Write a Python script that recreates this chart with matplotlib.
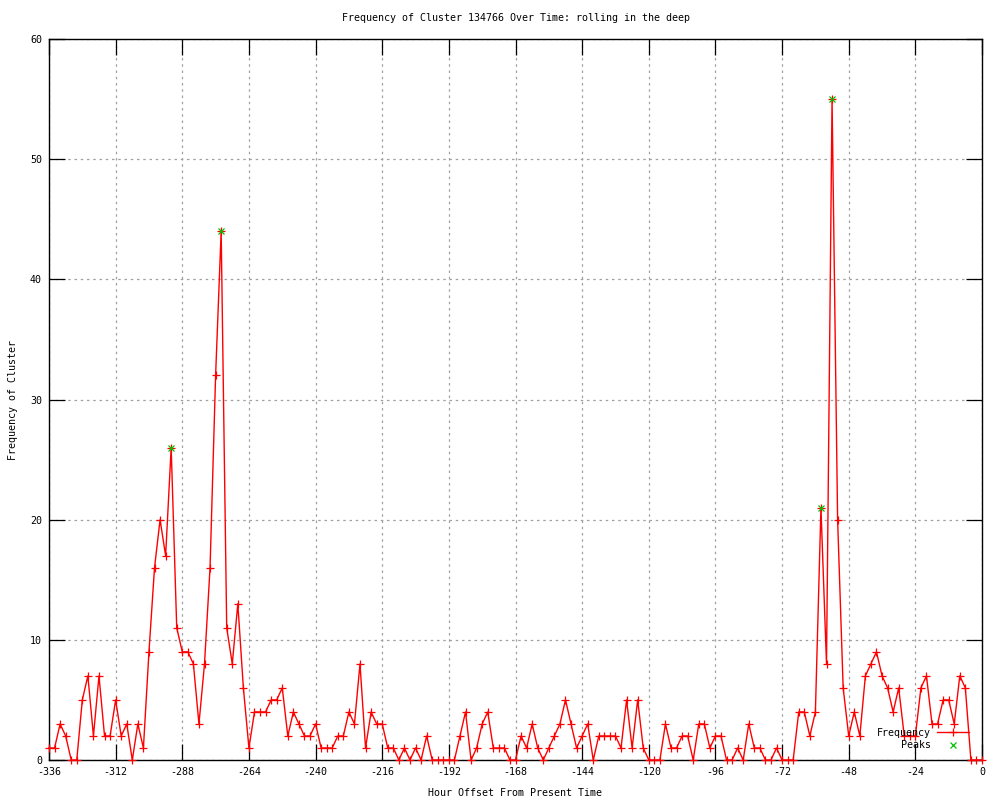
import numpy as np
import matplotlib
matplotlib.use("Agg")
import matplotlib.pyplot as plt

# counts every 2 hours, from -336 up to 0
hours = np.arange(-336, 1, 2)
freq = [1, 1, 3, 2, 0, 0, 5, 7, 2, 7, 2, 2, 5, 2, 3, 0, 3, 1, 9, 16,
        20, 17, 26, 11, 9, 9, 8, 3, 8, 16, 32, 44, 11, 8, 13, 6, 1, 4, 4, 4,
        5, 5, 6, 2, 4, 3, 2, 2, 3, 1, 1, 1, 2, 2, 4, 3, 8, 1, 4, 3,
        3, 1, 1, 0, 1, 0, 1, 0, 2, 0, 0, 0, 0, 0, 2, 4, 0, 1, 3, 4,
        1, 1, 1, 0, 0, 2, 1, 3, 1, 0, 1, 2, 3, 5, 3, 1, 2, 3, 0, 2,
        2, 2, 2, 1, 5, 1, 5, 1, 0, 0, 0, 3, 1, 1, 2, 2, 0, 3, 3, 1,
        2, 2, 0, 0, 1, 0, 3, 1, 1, 0, 0, 1, 0, 0, 0, 4, 4, 2, 4, 21,
        8, 55, 20, 6, 2, 4, 2, 7, 8, 9, 7, 6, 4, 6, 2, 2, 2, 6, 7, 3,
        3, 5, 5, 3, 7, 6, 0, 0, 0]

peak_hours = [-292, -274, -58, -54]
peak_freq = [26, 44, 21, 55]

xticks = np.arange(-336, 1, 24)
yticks = np.arange(0, 61, 10)

plt.rcParams['font.family'] = ['DejaVu Sans Mono']
plt.rcParams['font.size'] = 7.2
plt.rcParams['axes.unicode_minus'] = False

fig = plt.figure(figsize=(10, 8), dpi=100)
ax = fig.add_axes([0.049, 0.05, 0.933, 0.90125])

ax.plot(hours, freq, color='red', lw=1.0, marker='+', ms=6, mew=0.9,
        label='Frequency', clip_on=False, zorder=3)
ax.plot(peak_hours, peak_freq, ls='none', color='#00c000', marker='x',
        ms=5, mew=0.9, label='Peaks', clip_on=False, zorder=4)

ax.set_xlim(-336, 0)
ax.set_ylim(0, 60)
ax.set_xticks(xticks)
ax.set_xticklabels([str(t) for t in xticks])
ax.set_yticks(yticks)
ax.tick_params(direction='in', length=11.5, width=0.9, top=True, right=True,
               pad=5, colors='black')
ax.grid(True, color='#a0a0a0', ls=(0, (2, 3)), lw=0.9)
for s in ax.spines.values():
    s.set_linewidth(1.0)

ax.text(0.5, 1 + 21 / 721, 'Frequency of Cluster 134766 Over Time: rolling in the deep',
        transform=ax.transAxes, ha='center', va='center')
ax.set_xlabel('Hour Offset From Present Time', ha='center', va='center')
ax.xaxis.set_label_coords(0.5, -33 / 721)
ax.set_ylabel('Frequency of Cluster', ha='center', va='center')
ax.yaxis.set_label_coords(-36 / 933, 0.5)

ax.legend(loc='lower right', bbox_to_anchor=(0.99, 0.008), frameon=False,
          markerfirst=False, numpoints=1, handlelength=3.2, handletextpad=0.6,
          borderaxespad=0, labelspacing=0.25, alignment='right')

fig.savefig('out.png', dpi=100)
